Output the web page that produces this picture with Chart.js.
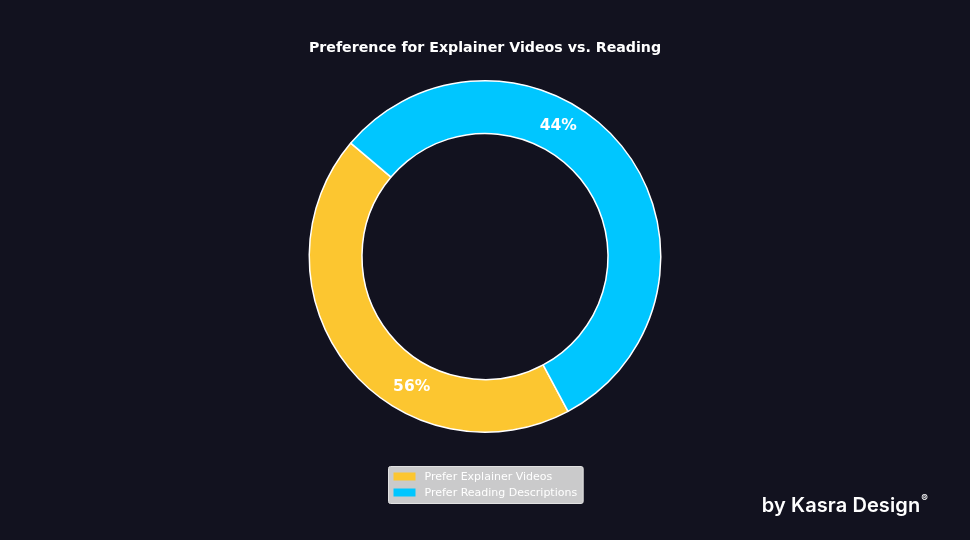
<!DOCTYPE html>
<html>
<head>
<meta charset="utf-8">
<script src="https://cdn.jsdelivr.net/npm/chart.js@4.4.1/dist/chart.umd.min.js"></script>
<style>
  html, body { margin: 0; padding: 0; background: #12121f; }
  #wrap { position: relative; width: 970px; height: 540px; }
  #mark {
    position: absolute; right: 42px; top: 493px;
    font-family: Inter, "Open Sans", sans-serif; font-weight: 600;
    font-size: 20px; color: #ffffff; letter-spacing: 0.1px;
  }
  #mark sup { font-size: 10px; position: relative; top: -2px; margin-left: 1px; }
</style>
</head>
<body>
<div id="wrap">
  <canvas id="pieChart" width="970" height="540"></canvas>
  <div id="mark">by Kasra Design<sup>®</sup></div>
</div>
<script>
const chartTitle = 'Preference for Explainer Videos vs. Reading';
const categories = ['Prefer Explainer Videos', 'Prefer Reading Descriptions'];
// slice sizes as drawn in the picture
const sliceShares = [44, 56];
// percentages printed on the ring
const pctLabels = [56, 44];
const colors = ['#fcc630', '#00c6ff'];

// title, percentage texts and boxed legend
const extras = {
  id: 'extras',
  afterDraw(chart) {
    const c = chart.ctx;
    const meta = chart.getDatasetMeta(0);
    const arc0 = meta.data[0];
    c.save();

    c.fillStyle = '#ffffff';
    c.textAlign = 'center';
    c.textBaseline = 'middle';
    c.font = 'bold 14.2px "DejaVu Sans"';
    c.fillText(chartTitle, chart.width / 2, 48);

    // labels placed around the ring, walking back from the end of the first arc
    const midR = (arc0.innerRadius + arc0.outerRadius) / 2;
    let a = arc0.endAngle;
    c.font = 'bold 15.5px "DejaVu Sans"';
    pctLabels.forEach(p => {
      const half = p / 100 * Math.PI;
      const ang = a - half;
      c.fillText(p + '%', arc0.x + Math.cos(ang) * midR, arc0.y + Math.sin(ang) * midR);
      a -= 2 * half;
    });

    // legend
    c.font = '11px "DejaVu Sans"';
    const textW = Math.max(...categories.map(t => c.measureText(t).width));
    const boxW = 5 + 22 + 9 + textW + 6;
    const rowH = 16;
    const boxH = categories.length * rowH + 5;
    const bx = Math.round(chart.width / 2 - boxW / 2) + 0.5;
    const by = 466.5;
    c.fillStyle = 'rgba(210,210,210,0.96)';
    c.strokeStyle = '#e2e2e2';
    c.lineWidth = 1;
    c.beginPath();
    c.roundRect(bx, by, boxW, boxH, 2);
    c.fill();
    c.stroke();
    c.textAlign = 'left';
    categories.forEach((t, i) => {
      const cy = by + 10 + i * rowH;
      c.fillStyle = colors[i];
      c.fillRect(bx + 5, cy - 4, 22, 8);
      c.fillStyle = '#ffffff';
      c.fillText(t, bx + 36, cy + 0.5);
    });
    c.restore();
  }
};

new Chart(document.getElementById('pieChart'), {
  type: 'doughnut',
  data: {
    labels: categories,
    datasets: [{
      data: sliceShares,
      backgroundColor: colors,
      borderColor: '#ffffff',
      borderWidth: 1.5
    }]
  },
  options: {
    responsive: false,
    animation: false,
    cutout: '70%',
    rotation: 151.8,
    layout: { padding: { top: 80, bottom: 107, left: 0, right: 0 } },
    plugins: {
      legend: { display: false },
      tooltip: { enabled: false }
    }
  },
  plugins: [extras]
});
</script>
</body>
</html>
